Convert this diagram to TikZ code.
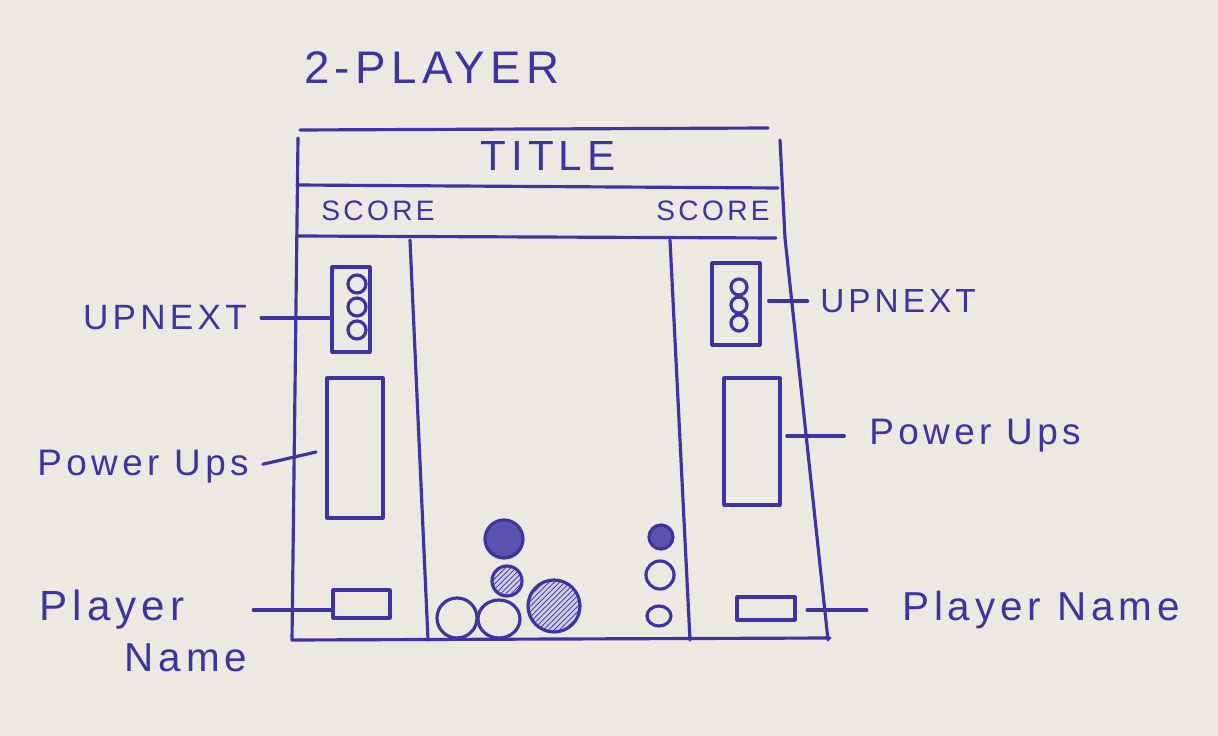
\documentclass[tikz,border=0pt]{standalone}
\usepackage{fontspec}
\setmainfont{Liberation Sans}
\newfontfamily\handfont[LetterSpace=12]{Liberation Sans}
\usetikzlibrary{fit,patterns}
\definecolor{inkblue}{RGB}{62,52,160}
\definecolor{paper}{RGB}{236,233,226}
\tikzset{
  ink/.style={draw=inkblue,line width=1.8pt,line cap=round,line join=round},
  slot/.style={ink,inner sep=0pt},
  hand/.style={text=inkblue,inner sep=1pt,font=\handfont\fontsize{#1}{#1}\selectfont},
  lead/.style={ink},
  ball/.style={ink},
  darkball/.style={ink,fill=inkblue!85},
  hatchball/.style={ink,fill=inkblue!25,postaction={pattern=north east lines,pattern color=inkblue}}
}
\begin{document}
\begin{tikzpicture}[x=0.02cm,y=-0.02cm]
  \fill[paper] (0,0) rectangle (1218,736);
  \useasboundingbox (0,0) rectangle (1218,736);

  \node[hand=26] (head) at (432,68) {2-PLAYER};

  \draw[ink] (300,130) -- (768,128);
  \draw[ink] (298,138) -- (292,640) -- (830,638);
  \draw[ink] (780,140) -- (785,238) -- (828,640);
  \draw[ink] (297,185) -- (778,188);
  \draw[ink] (297,236) -- (776,238);
  \draw[ink] (410,240) -- (428,640);
  \draw[ink] (670,240) -- (690,640);

  \node[hand=24] (title) at (548,156) {TITLE};
  \node[hand=16] (lscore) at (378,211) {SCORE};
  \node[hand=16] (rscore) at (713,211) {SCORE};

  \node[slot,fit={(332,267) (370,352)}] (lnextbox) {};
  \node[slot,fit={(327,378) (383,518)}] (lpowbox) {};
  \node[slot,fit={(333,590) (390,618)}] (lnamebox) {};
  \node[slot,fit={(712,263) (760,345)}] (rnextbox) {};
  \node[slot,fit={(724,378) (780,505)}] (rpowbox) {};
  \node[slot,fit={(737,597) (795,620)}] (rnamebox) {};

  \foreach \y in {284,307,330}
    \draw[ball] (357,\y) ellipse [x radius=9,y radius=9];
  \foreach \y in {287,305,323}
    \draw[ball] (739,\y) ellipse [x radius=8,y radius=8];

  \node[hand=20] (lnext) at (165,318) {UPNEXT};
  \node[hand=21] (lpow) at (143,467) {Power Ups};
  \node[hand=24] (lplayer) at (112,610) {Player};
  \node[hand=23] (lname) at (186,658) {Name};
  \node[hand=19] (rnext) at (898,301) {UPNEXT};
  \node[hand=21] (rpow) at (975,436) {Power Ups};
  \node[hand=23] (rplayer) at (1041,610) {Player Name};

  \coordinate (lpowend) at (316,452);
  \draw[lead,shorten <=7pt] (lnext.east) -- (lnext.east -| lnextbox.west);
  \draw[lead,shorten <=7pt] (lpow.east) -- (lpowend);
  \draw[lead,shorten <=38pt] (lplayer.east) -- (lplayer.east -| lnamebox.west);
  \draw[lead,shorten <=4pt,shorten >=6pt] (rnextbox.east |- rnext.west) -- (rnext.west);
  \draw[lead,shorten <=3pt,shorten >=13pt] (rpowbox.east |- rpow.west) -- (rpow.west);
  \draw[lead,shorten <=6pt,shorten >=19pt] (rnamebox.east |- rplayer.west) -- (rplayer.west);

  \draw[darkball] (504,539) circle [radius=19];
  \draw[hatchball] (507,581) circle [radius=15];
  \draw[ball] (457,618) circle [radius=20];
  \draw[ball] (499,619) ellipse [x radius=21,y radius=19];
  \draw[hatchball] (554,606) circle [radius=26];
  \draw[darkball] (661,537) circle [radius=12];
  \draw[ball] (660,575) circle [radius=14];
  \draw[ball] (659,616) ellipse [x radius=12,y radius=10];
\end{tikzpicture}
\end{document}
